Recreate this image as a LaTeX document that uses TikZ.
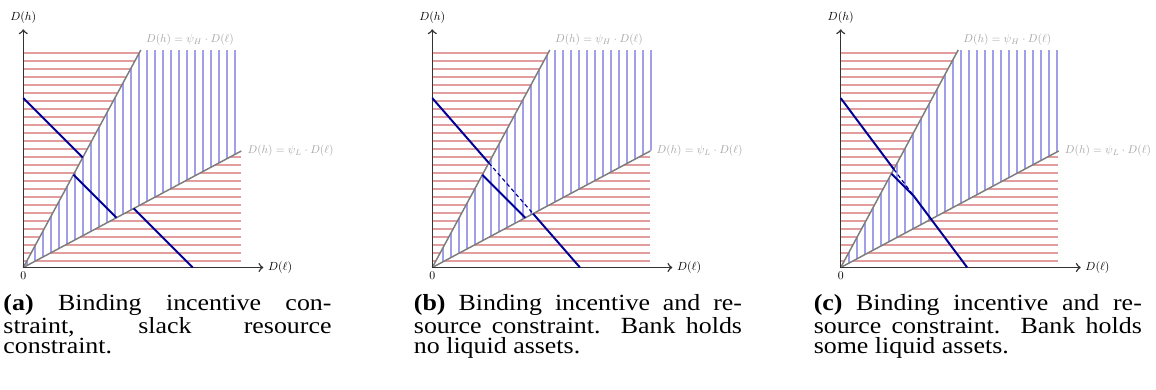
\documentclass[tikz,border=0pt]{standalone}
\usepackage[no-math]{fontspec}
\setmainfont{Liberation Serif}
\definecolor{hatchred}{RGB}{226,158,158}
\definecolor{hatchblue}{RGB}{160,160,232}
\definecolor{navy}{RGB}{0,0,150}
\definecolor{lblgray}{RGB}{165,165,165}
\definecolor{psigray}{RGB}{125,125,125}
\tikzset{
  redhatch/.style={draw=hatchred, line width=0.62pt},
  bluehatch/.style={draw=hatchblue, line width=0.62pt},
  psiline/.style={draw=psigray, line width=0.75pt},
  axisline/.style={draw=black!80, line width=0.75pt, ->},
  budget/.style={draw=navy, line width=1pt},
  budgetdash/.style={draw=navy, line width=0.6pt, dash pattern=on 2pt off 1.5pt},
  psilbl/.style={text=lblgray, scale=0.58, inner sep=0pt, anchor=west},
  axlbl/.style={scale=0.6, inner sep=0pt},
  capt/.style={anchor=base west, inner sep=0pt, xscale=1.12, font=\fontsize{11.8}{10.62}\selectfont}
}
\newcommand\drawbase[1]{%
  \coordinate (O) at (0,0);
  \coordinate (Ht) at (117.5,217.5);
  \coordinate (Lt) at (218,116.5);
  \begin{scope}
    \clip (0,0) -- (117.5,217.5) -- (0,217.5) -- cycle;
    \foreach \k in {0,...,26} \draw[redhatch] (0,{6.5+8*\k}) -- (218,{6.5+8*\k});
  \end{scope}
  \begin{scope}
    \clip (0,0) -- (218,116.5) -- (218,0) -- cycle;
    \foreach \k in {0,...,26} \draw[redhatch] (0,{6.5+8*\k}) -- (218,{6.5+8*\k});
  \end{scope}
  \begin{scope}
    \clip (0,0) -- (117.5,217.5) -- (240,217.5) -- (240,128.25) -- cycle;
    \foreach \k in {0,...,26} \draw[bluehatch] ({#1+8*\k},0) -- ({#1+8*\k},217.5);
  \end{scope}
  \draw[psiline] (O) -- (Ht);
  \draw[psiline] (O) -- (Lt);
  \node[psilbl] (hl) at ([shift={(5,10.5)}]Ht) {$D(h)=\psi_H\cdot D(\ell)$};
  \node[psilbl] (ll) at ([shift={(6,0)}]Lt) {$D(h)=\psi_L\cdot D(\ell)$};
  \coordinate (xe) at (240,0);
  \coordinate (ye) at (0,238.2);
  \draw[axisline] (O) -- (xe);
  \draw[axisline] (O) -- (ye);
  \node[axlbl, anchor=west] (xl) at (244.5,0) {$D(\ell)$};
  \node[axlbl] (yl) at (0,249.5) {$D(h)$};
  \node[axlbl] (zl) at (0,-8.5) {$0$};
}
\begin{document}
\begin{tikzpicture}[x=0.51pt,y=0.51pt]
\useasboundingbox (0,0) rectangle (1156,389);
% panel (a)
\begin{scope}[shift={(23.3,121.5)}]
  \drawbase{3.7}
  \coordinate (A1) at (0,169.5); \coordinate (B1) at (169.5,0);
  \coordinate (P1) at (intersection of O--Ht and A1--B1);
  \coordinate (Q1) at (intersection of O--Lt and A1--B1);
  \draw[budget] (A1) -- (P1);
  \draw[budget] (Q1) -- (B1);
  \coordinate (A2) at (0,143); \coordinate (B2) at (143,0);
  \coordinate (P2) at (intersection of O--Ht and A2--B2);
  \coordinate (Q2) at (intersection of O--Lt and A2--B2);
  \draw[budget] (P2) -- (Q2);
\end{scope}
% panel (b)
\begin{scope}[shift={(432.3,121.5)}]
  \drawbase{10.7}
  \coordinate (A1) at (0,169.4); \coordinate (B1) at (147.7,0);
  \coordinate (P1) at (intersection of O--Ht and A1--B1);
  \coordinate (Q1) at (intersection of O--Lt and A1--B1);
  \draw[budget] (A1) -- (P1);
  \draw[budgetdash] (P1) -- (Q1);
  \draw[budget] (Q1) -- (B1);
  \coordinate (A2) at (0,142.7); \coordinate (B2) at (142.7,0);
  \coordinate (P2) at (intersection of O--Ht and A2--B2);
  \coordinate (Q2) at (intersection of O--Lt and A2--B2);
  \draw[budget] (P2) -- (Q2);
\end{scope}
% panel (c)
\begin{scope}[shift={(840.7,121.5)}]
  \drawbase{8.3}
  \coordinate (A1) at (0,169.4); \coordinate (B1) at (126.5,0);
  \coordinate (A2) at (0,144.5); \coordinate (B2) at (144.5,0);
  \coordinate (P1) at (intersection of O--Ht and A1--B1);
  \coordinate (P2) at (intersection of O--Ht and A2--B2);
  \coordinate (K) at (intersection of A1--B1 and A2--B2);
  \draw[budget] (A1) -- (P1);
  \draw[budgetdash] (P1) -- (K);
  \draw[budget] (K) -- (B1);
  \draw[budget] (P2) -- (K);
\end{scope}
% captions
\node[capt] (ca) at (3,79) {\parbox[t]{149.4pt}{\textbf{(a)} Binding incentive con-\linebreak straint, slack resource\linebreak constraint.}};
\node[capt] (cb) at (413.5,79) {\parbox[t]{149.4pt}{\textbf{(b)} Binding incentive and re-\linebreak source constraint. Bank holds\linebreak no liquid assets.}};
\node[capt] (cc) at (813.3,79) {\parbox[t]{149.4pt}{\textbf{(c)} Binding incentive and re-\linebreak source constraint. Bank holds\linebreak some liquid assets.}};
\end{tikzpicture}
\end{document}
